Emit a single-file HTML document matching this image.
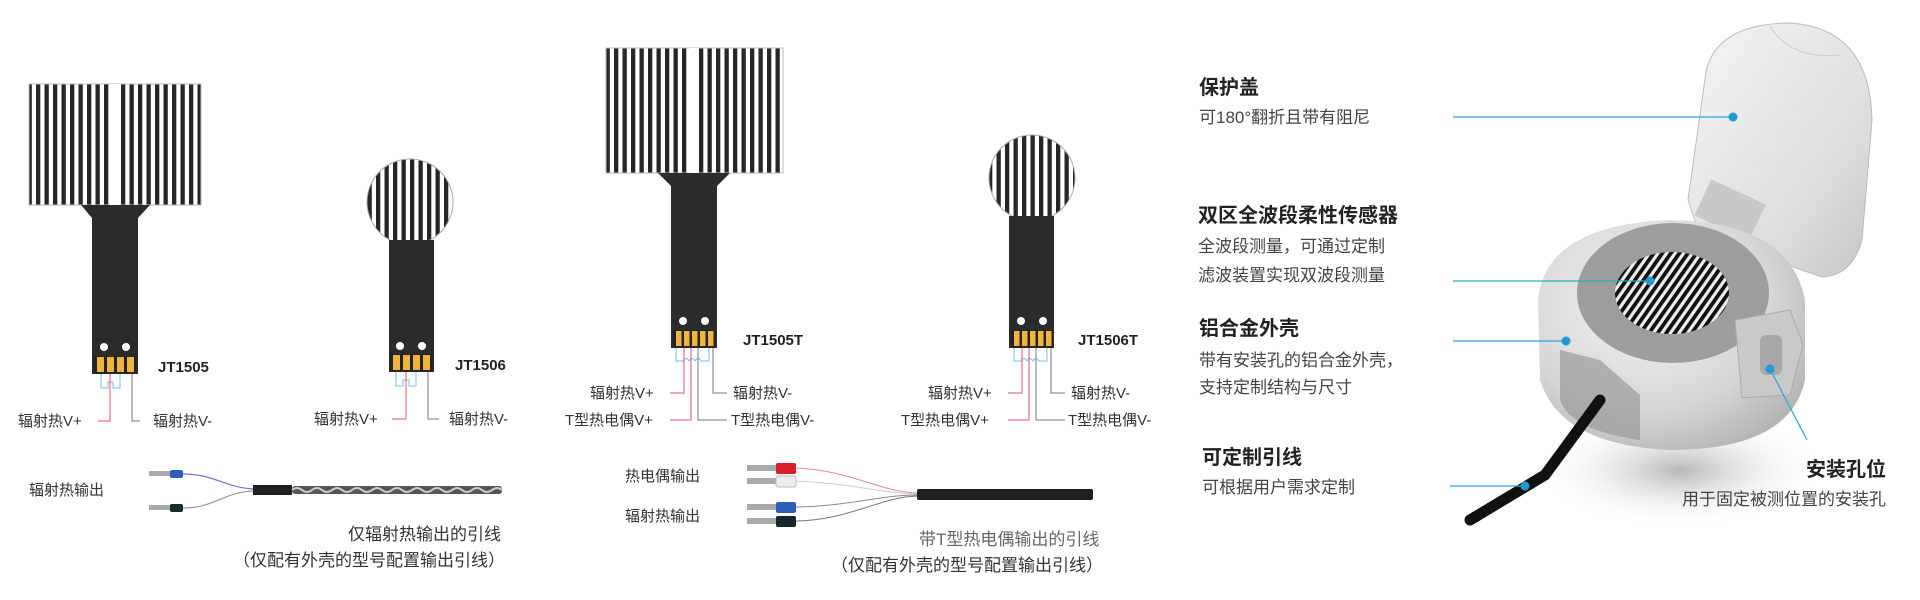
<!DOCTYPE html>
<html><head><meta charset="utf-8"><style>
html,body{margin:0;padding:0;background:#fff;width:1920px;height:600px;overflow:hidden}
svg{display:block}
text{font-family:"Liberation Sans","Noto Sans CJK SC",sans-serif}
.l{font-size:15px;fill:#333}
.b{font-size:15px;font-weight:bold;fill:#222}
.h{font-size:20px;font-weight:bold;fill:#222}
.d{font-size:17px;fill:#444}
</style></head><body>
<svg width="1920" height="600" viewBox="0 0 1920 600" xmlns="http://www.w3.org/2000/svg">
<defs>
<pattern id="vs" width="8.5" height="10" patternUnits="userSpaceOnUse"><rect width="8.5" height="10" fill="#fff"/><rect x="2" width="4.3" height="10" fill="#262626"/></pattern>
<pattern id="ds" width="7" height="7" patternUnits="userSpaceOnUse" patternTransform="rotate(35)"><rect width="7" height="7" fill="#eee"/><rect width="3.8" height="7" fill="#111"/></pattern>
<clipPath id="c1"><circle cx="410" cy="202" r="43"/></clipPath>
<clipPath id="c2"><circle cx="1032" cy="178" r="43"/></clipPath>
<radialGradient id="al" cx="0.4" cy="0.35" r="0.8"><stop offset="0" stop-color="#f4f4f4"/><stop offset="0.6" stop-color="#d6d6d6"/><stop offset="1" stop-color="#a9a9a9"/></radialGradient>
<linearGradient id="lid" x1="0" y1="0" x2="1" y2="1"><stop offset="0" stop-color="#f6f6f6"/><stop offset="0.7" stop-color="#dcdcdc"/><stop offset="1" stop-color="#c4c4c4"/></linearGradient>
<radialGradient id="sh" cx="0.5" cy="0.5" r="0.5"><stop offset="0" stop-color="#888" stop-opacity="0.6"/><stop offset="1" stop-color="#fff" stop-opacity="0"/></radialGradient>
<g id="pads4"><rect width="42" height="17" fill="#222"/><rect x="3" y="1" width="7" height="15" fill="#f0b43c"/><rect x="13" y="1" width="7" height="15" fill="#f0b43c"/><rect x="23" y="1" width="7" height="15" fill="#f0b43c"/><rect x="33" y="1" width="7" height="15" fill="#f0b43c"/></g>
<g id="pads5"><rect width="42" height="17" fill="#222"/><rect x="3" y="1" width="5.5" height="15" fill="#f0b43c"/><rect x="11" y="1" width="5.5" height="15" fill="#f0b43c"/><rect x="19" y="1" width="5.5" height="15" fill="#f0b43c"/><rect x="27" y="1" width="5.5" height="15" fill="#f0b43c"/><rect x="35" y="1" width="5.5" height="15" fill="#f0b43c"/></g>
</defs>

<!-- JT1505 -->
<rect x="29" y="84" width="172" height="121" fill="url(#vs)" stroke="#bbb"/>
<rect x="110" y="84" width="10" height="121" fill="#fff"/>
<polygon points="81,205 150,205 138,218 92,218" fill="#2b2b2b"/>
<rect x="92" y="205" width="46" height="169" fill="#2b2b2b"/>
<circle cx="104" cy="347" r="4" fill="#fff"/><circle cx="126" cy="347" r="4" fill="#fff"/>
<use href="#pads4" x="94" y="356"/>
<text class="b" x="158" y="372">JT1505</text>
<path d="M101,374 V388 H108 V382 H113 V388 H120 V374" fill="none" stroke="#6cc2ea" stroke-width="1"/>
<path d="M110,374 V421 H98" fill="none" stroke="#e05064" stroke-width="1"/>
<path d="M132,374 V421 H140" fill="none" stroke="#777" stroke-width="1"/>
<text class="l" x="18" y="426">辐射热V+</text><text class="l" x="153" y="426">辐射热V-</text>

<!-- JT1506 -->
<rect x="367" y="159" width="86" height="86" fill="url(#vs)" clip-path="url(#c1)"/>
<circle cx="410" cy="202" r="43" fill="none" stroke="#aaa"/>
<rect x="389" y="240" width="45" height="132" fill="#2b2b2b"/>
<circle cx="400" cy="346" r="4" fill="#fff"/><circle cx="422" cy="346" r="4" fill="#fff"/>
<use href="#pads4" x="390" y="354"/>
<text class="b" x="455" y="370">JT1506</text>
<path d="M396,372 V386 H403 V380 H409 V386 H416 V372" fill="none" stroke="#6cc2ea" stroke-width="1"/>
<path d="M406,372 V419 H392" fill="none" stroke="#e05064" stroke-width="1"/>
<path d="M428,372 V419 H439" fill="none" stroke="#777" stroke-width="1"/>
<text class="l" x="314" y="424">辐射热V+</text><text class="l" x="449" y="424">辐射热V-</text>

<!-- JT1505T -->
<rect x="606" y="48" width="177" height="125" fill="url(#vs)" stroke="#bbb"/>
<rect x="689" y="48" width="10" height="125" fill="#fff"/>
<polygon points="658,173 730,173 717,186 671,186" fill="#2b2b2b"/>
<rect x="671" y="173" width="46" height="175" fill="#2b2b2b"/>
<circle cx="683" cy="321" r="4" fill="#fff"/><circle cx="705" cy="321" r="4" fill="#fff"/>
<use href="#pads5" x="673" y="330"/>
<text class="b" x="743" y="345">JT1505T</text>
<path d="M676,348 V361 H683 Q686,356 689,361 Q692,356 695,361 Q698,356 701,361 H709 V348" fill="none" stroke="#6cc2ea" stroke-width="1"/>
<path d="M684,348 V393 H670 M691,348 V420 H670" fill="none" stroke="#e05064" stroke-width="1"/>
<path d="M713,348 V393 H727 M698,348 V420 H727" fill="none" stroke="#777" stroke-width="1"/>
<text class="l" x="590" y="398">辐射热V+</text><text class="l" x="565" y="425">T型热电偶V+</text>
<text class="l" x="733" y="398">辐射热V-</text><text class="l" x="731" y="425">T型热电偶V-</text>

<!-- JT1506T -->
<rect x="989" y="135" width="86" height="86" fill="url(#vs)" clip-path="url(#c2)"/>
<circle cx="1032" cy="178" r="43" fill="none" stroke="#aaa"/>
<rect x="1009" y="216" width="45" height="132" fill="#2b2b2b"/>
<circle cx="1021" cy="321" r="4" fill="#fff"/><circle cx="1043" cy="321" r="4" fill="#fff"/>
<use href="#pads5" x="1011" y="330"/>
<text class="b" x="1078" y="345">JT1506T</text>
<path d="M1014,348 V361 H1021 Q1024,356 1027,361 Q1030,356 1033,361 Q1036,356 1039,361 H1047 V348" fill="none" stroke="#6cc2ea" stroke-width="1"/>
<path d="M1022,348 V393 H1008 M1029,348 V420 H1008" fill="none" stroke="#e05064" stroke-width="1"/>
<path d="M1051,348 V393 H1065 M1036,348 V420 H1065" fill="none" stroke="#777" stroke-width="1"/>
<text class="l" x="928" y="398">辐射热V+</text><text class="l" x="901" y="425">T型热电偶V+</text>
<text class="l" x="1071" y="398">辐射热V-</text><text class="l" x="1068" y="425">T型热电偶V-</text>

<!-- left cable -->
<text class="l" x="29" y="495">辐射热输出</text>
<rect x="149" y="471" width="22" height="5" fill="#aaa"/><rect x="170" y="470" width="13" height="8" rx="2" fill="#2c5fb8"/>
<rect x="149" y="505" width="22" height="5" fill="#aaa"/><rect x="170" y="504" width="13" height="8" rx="2" fill="#1a2a30"/>
<path d="M183,474 C215,474 225,488 255,489" fill="none" stroke="#6a78d0" stroke-width="1.2"/>
<path d="M183,508 C215,508 225,491 255,491" fill="none" stroke="#999" stroke-width="1.2"/>
<rect x="253" y="485" width="39" height="10" fill="#1e1e1e"/>
<rect x="292" y="486" width="210" height="8" rx="3" fill="#555"/>
<path d="M292,490 q5,-4 10,0 t10,0 t10,0 t10,0 t10,0 t10,0 t10,0 t10,0 t10,0 t10,0 t10,0 t10,0 t10,0 t10,0 t10,0 t10,0 t10,0 t10,0 t10,0 t10,0 t10,0" fill="none" stroke="#ccc" stroke-width="2"/>
<text class="l" x="348" y="540" style="font-size:17px">仅辐射热输出的引线</text>
<text class="l" x="233" y="566" style="font-size:17px">（仅配有外壳的型号配置输出引线）</text>

<!-- right cable -->
<text class="l" x="625" y="481">热电偶输出</text><text class="l" x="625" y="521">辐射热输出</text>
<rect x="747" y="465" width="30" height="6" fill="#aaa"/><rect x="776" y="463" width="20" height="11" rx="2" fill="#d8202c"/>
<rect x="747" y="478" width="30" height="6" fill="#aaa"/><rect x="776" y="476" width="20" height="11" rx="2" fill="#eee" stroke="#bbb"/>
<rect x="747" y="504" width="30" height="6" fill="#aaa"/><rect x="776" y="502" width="20" height="11" rx="2" fill="#2c5fb8"/>
<rect x="747" y="518" width="30" height="6" fill="#aaa"/><rect x="776" y="516" width="20" height="11" rx="2" fill="#15262c"/>
<path d="M796,468 C850,470 880,492 917,493" fill="none" stroke="#e88" stroke-width="1"/>
<path d="M796,481 C850,483 880,493 917,494" fill="none" stroke="#ccc" stroke-width="1"/>
<path d="M796,507 C850,506 880,495 917,495" fill="none" stroke="#88a" stroke-width="1"/>
<path d="M796,521 C850,520 880,497 917,496" fill="none" stroke="#777" stroke-width="1"/>
<rect x="917" y="489" width="176" height="11" rx="2" fill="#1e1e1e"/>
<text class="l" x="919" y="545" style="font-size:17px;fill:#666">带T型热电偶输出的引线</text>
<text class="l" x="831" y="571" style="font-size:17px">（仅配有外壳的型号配置输出引线）</text>

<!-- device -->
<ellipse cx="1680" cy="470" rx="150" ry="60" fill="url(#sh)"/>
<path d="M1700,235 L1688,200 L1706,72 Q1716,24 1790,23 Q1870,28 1872,120 L1862,240 Q1852,276 1822,277 Z" fill="url(#lid)" stroke="#bbb"/>
<path d="M1770,26 Q1790,60 1840,55" fill="none" stroke="#ccc"/>
<rect x="1700" y="190" width="60" height="40" fill="#c8c8c8" transform="rotate(25 1730 210)"/>
<path d="M1538,300 Q1545,225 1670,220 Q1790,222 1805,300 L1805,380 Q1790,450 1670,450 Q1560,445 1540,380 Z" fill="url(#al)"/>
<path d="M1560,350 L1600,360 L1640,395 L1640,440 Q1570,430 1560,400 Z" fill="#9a9a9a" opacity="0.7"/>
<ellipse cx="1673" cy="293" rx="96" ry="70" fill="#9d9d9d"/>
<ellipse cx="1672" cy="293" rx="57" ry="41" fill="url(#ds)"/>
<path d="M1735,320 L1790,310 L1803,345 L1790,395 L1742,398 Z" fill="#c9c9c9" stroke="#aaa"/>
<rect x="1760" y="335" width="22" height="40" rx="6" fill="#a8a8a8"/>
<path d="M1600,400 L1545,475 L1470,520" fill="none" stroke="#111" stroke-width="11" stroke-linecap="round"/>

<!-- annotations -->
<g stroke="#29a8e0" stroke-width="1.3" fill="none">
<path d="M1453,117 H1733"/><path d="M1453,281 H1650"/><path d="M1453,341 H1566"/><path d="M1450,486 H1525"/><path d="M1770,369 L1807,440"/>
</g>
<g fill="#1e9ad8"><circle cx="1733" cy="117" r="4.5"/><circle cx="1650" cy="281" r="4.5"/><circle cx="1566" cy="341" r="4.5"/><circle cx="1525" cy="486" r="4.5"/><circle cx="1770" cy="369" r="4.5"/></g>
<text class="h" x="1199" y="94">保护盖</text>
<text class="d" x="1199" y="123">可180°翻折且带有阻尼</text>
<text class="h" x="1198" y="222">双区全波段柔性传感器</text>
<text class="d" x="1198" y="252">全波段测量，可通过定制</text>
<text class="d" x="1198" y="281">滤波装置实现双波段测量</text>
<text class="h" x="1199" y="335">铝合金外壳</text>
<text class="d" x="1199" y="366">带有安装孔的铝合金外壳，</text>
<text class="d" x="1199" y="393">支持定制结构与尺寸</text>
<text class="h" x="1202" y="464">可定制引线</text>
<text class="d" x="1202" y="493">可根据用户需求定制</text>
<text class="h" x="1886" y="476" text-anchor="end">安装孔位</text>
<text class="d" x="1886" y="505" text-anchor="end">用于固定被测位置的安装孔</text>
</svg>
</body></html>
